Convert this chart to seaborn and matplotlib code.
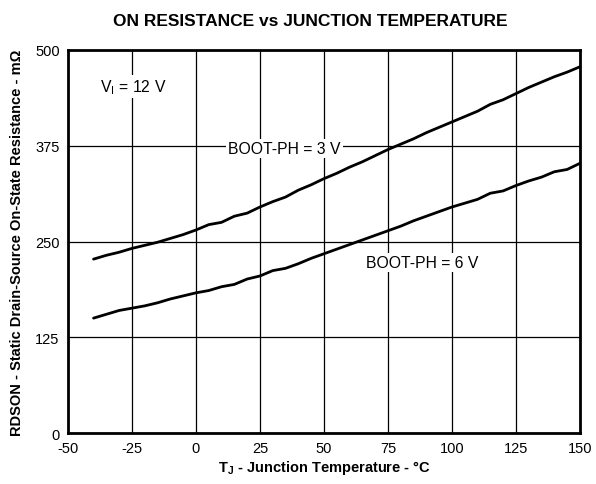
import matplotlib
matplotlib.use("Agg")
import matplotlib.pyplot as plt
import numpy as np
import pandas as pd
import seaborn as sns

# Junction temperature (deg C)
temp = [-40, -35, -30, -25, -20, -15, -10, -5, 0, 5, 10, 15, 20, 25, 30, 35,
        40, 45, 50, 55, 60, 65, 70, 75, 80, 85, 90, 95, 100, 105, 110, 115,
        120, 125, 130, 135, 140, 145, 150]

# RDSON (mOhm)
rds_boot3 = [227, 232, 236, 241, 245, 249, 254, 259, 265, 272, 275, 283, 287,
             295, 302, 308, 317, 324, 332, 339, 347, 354, 362, 370, 377, 384,
             392, 399, 406, 413, 420, 429, 435, 443, 451, 458, 465, 471, 478]
rds_boot6 = [150, 155, 160, 163, 166, 170, 175, 179, 183, 186, 191, 194, 201,
             205, 212, 215, 221, 228, 234, 240, 246, 252, 258, 264, 270, 277,
             283, 289, 295, 300, 305, 313, 316, 323, 329, 334, 341, 344, 352]

x_ticks = [-50, -25, 0, 25, 50, 75, 100, 125, 150]
y_ticks = [0, 125, 250, 375, 500]

sns.set_style("white")
plt.rcParams["font.family"] = ["Liberation Sans", "DejaVu Sans"]
plt.rcParams["axes.unicode_minus"] = False
plt.rcParams["text.color"] = "black"
plt.rcParams["axes.labelcolor"] = "black"

df = pd.DataFrame({
    "temp": temp * 2,
    "rds": rds_boot3 + rds_boot6,
    "curve": ["BOOT-PH = 3 V"] * len(temp) + ["BOOT-PH = 6 V"] * len(temp),
})

fig = plt.figure(figsize=(5.96, 4.85), dpi=100)
ax = fig.add_axes([0.114, 0.105, 0.859, 0.79])

sns.lineplot(data=df, x="temp", y="rds", units="curve", estimator=None,
             color="black", linewidth=2, ax=ax, legend=False, zorder=3)

ax.set_xlim(-50, 150)
ax.set_ylim(0, 500)
ax.set_xticks(x_ticks)
ax.set_yticks(y_ticks)
ax.tick_params(length=0, labelsize=10.5, pad=6, colors="black")
ax.grid(True, color="black", linewidth=0.9)
for s in ax.spines.values():
    s.set_visible(True)
    s.set_color("black")
    s.set_linewidth(2)

box = dict(facecolor="white", edgecolor="none", pad=1.5)
ax.text(-37.5, 452, "V$_\\mathregular{I}$ = 12 V", fontsize=11.3,
        va="center", ha="left", bbox=box, zorder=4)
ax.text(34.5, 371, "BOOT-PH = 3 V", fontsize=11.3, va="center",
        ha="center", bbox=box, zorder=4)
ax.text(88.5, 223, "BOOT-PH = 6 V", fontsize=11.3, va="center",
        ha="center", bbox=box, zorder=4)

ax.set_xlabel("T$_\\mathregular{J}$ - Junction Temperature - °C",
              fontsize=10.5, fontweight="bold", labelpad=2)
ax.set_ylabel("RDSON - Static Drain-Source On-State Resistance - mΩ",
              fontsize=10.5, fontweight="bold", labelpad=8)
fig.text(0.52, 0.955, "ON RESISTANCE vs JUNCTION TEMPERATURE",
         ha="center", va="center", fontsize=12.5, fontweight="bold")

fig.savefig("out.png", dpi=100)
